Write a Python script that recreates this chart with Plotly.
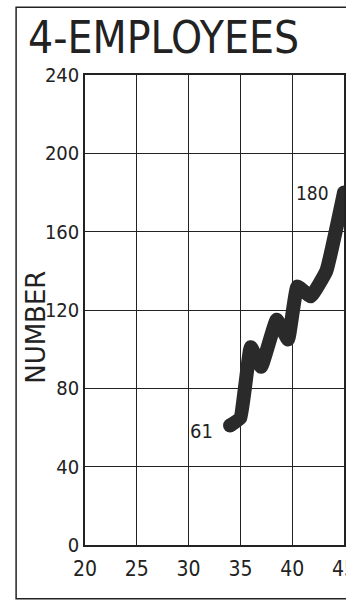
import plotly.graph_objects as go

years = [34, 35, 36, 37, 38.5, 39.6, 40.5, 41.8, 43.3, 45]
employees = [61, 65, 101, 91, 115, 105, 132, 127, 140, 180]
x_ticks = [20, 25, 30, 35, 40, 45]
y_ticks = [0, 40, 80, 120, 160, 200, 240]

COND = "DejaVu Sans Condensed, sans-serif"
WIDE = "DejaVu Sans, sans-serif"
INK = "#222222"
LINE = "#2a2a2a"

fig = go.Figure()
fig.add_trace(go.Scatter(
    x=years, y=employees, mode="lines",
    line=dict(color=LINE, width=14, shape="spline", smoothing=0.3),
    hoverinfo="skip", cliponaxis=False,
))
fig.add_trace(go.Scatter(
    x=[years[0], years[-1]], y=[employees[0], employees[-1]], mode="markers",
    marker=dict(color=LINE, size=14, line=dict(width=0)),
    hoverinfo="skip", cliponaxis=False,
))

fig.add_annotation(x=years[0], y=employees[0], text=str(employees[0]), showarrow=False,
                   xanchor="center", yanchor="middle", xshift=-29, yshift=-5,
                   font=dict(family=COND, size=20, color=INK))
fig.add_annotation(x=years[-1], y=employees[-1], text=str(employees[-1]), showarrow=False,
                   xanchor="center", yanchor="middle", xshift=-32, yshift=0,
                   font=dict(family=COND, size=19, color=INK))

# y-axis title
fig.add_annotation(xref="paper", yref="paper", x=-0.19, y=0.4638, text="NUMBER",
                   textangle=-90, showarrow=False, xanchor="center", yanchor="middle",
                   font=dict(family=WIDE, size=26, color=INK))

# outer frame
fig.add_shape(type="rect", xref="paper", yref="paper",
              x0=-0.266, x1=1.2, y0=-0.1146, y1=1.144,
              line=dict(color=INK, width=1.5), layer="below")

fig.update_layout(
    width=346, height=601,
    margin=dict(l=85, r=2, t=75, b=56, autoexpand=False),
    paper_bgcolor="white", plot_bgcolor="white",
    showlegend=False,
    title=dict(text="4-EMPLOYEES", x=0.081, xref="container", xanchor="left",
               y=1 - 38 / 601, yref="container", yanchor="middle",
               font=dict(family=COND, size=44, color=INK)),
    xaxis=dict(range=[20, 45], tickvals=x_ticks, ticktext=[str(v) for v in x_ticks],
               showgrid=True, gridcolor=INK, gridwidth=1,
               showline=True, linecolor=INK, linewidth=1.5, mirror=True,
               zeroline=False, ticks="", ticklabelstandoff=4, automargin=False,
               ticklabeloverflow="allow",
               tickfont=dict(family=COND, size=21, color=INK)),
    yaxis=dict(range=[0, 240], tickvals=y_ticks, ticktext=[str(v) for v in y_ticks],
               showgrid=True, gridcolor=INK, gridwidth=1,
               showline=True, linecolor=INK, linewidth=1.5, mirror=True,
               zeroline=False, ticks="", automargin=False, ticklabelstandoff=0,
               ticklabeloverflow="allow",
               tickfont=dict(family=COND, size=20, color=INK)),
)

fig.write_html("out.html", config={"displayModeBar": False},
               post_script="document.body.style.margin='0';document.body.style.overflow='hidden';")
